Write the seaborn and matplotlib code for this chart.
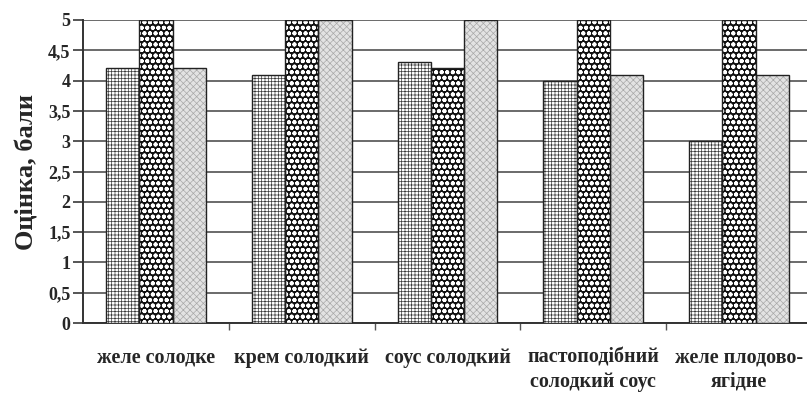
import matplotlib
matplotlib.use("Agg")
import matplotlib.pyplot as plt
import matplotlib.patches as mpatches
import seaborn as sns
import pandas as pd

# Scores for each dessert product, three samples per product
categories = ["желе солодке", "крем солодкий", "соус солодкий",
              "пастоподібний\nсолодкий соус", "желе плодово-\nягідне"]
series_names = ["Зразок 1", "Зразок 2", "Зразок 3"]
sample_1 = [4.2, 4.1, 4.3, 4.0, 3.0]
sample_2 = [5.0, 5.0, 4.2, 5.0, 5.0]
sample_3 = [4.2, 5.0, 5.0, 4.1, 4.1]
y_ticks = [0, 0.5, 1, 1.5, 2, 2.5, 3, 3.5, 4, 4.5, 5]
y_tick_labels = ["0", "0,5", "1", "1,5", "2", "2,5", "3", "3,5", "4", "4,5", "5"]
y_label = "Оцінка, бали"

rows = []
for name, vals in zip(series_names, [sample_1, sample_2, sample_3]):
    for cat, v in zip(categories, vals):
        rows.append({"product": cat, "sample": name, "score": v})
df = pd.DataFrame(rows)

sns.set_style("white")
plt.rcParams["font.family"] = ["Liberation Serif", "DejaVu Serif"]
plt.rcParams["hatch.linewidth"] = 0.5

fig = plt.figure(figsize=(8.07, 3.93), dpi=100)
ax = fig.add_axes([83 / 807, 70 / 393, 729 / 807, 303 / 393])

sns.barplot(data=df, x="product", y="score", hue="sample", order=categories,
            hue_order=series_names, width=0.685, gap=0, legend=False,
            errorbar=None, ax=ax, zorder=3)

# Fill styles for the three samples: fine grid, dotted black, light texture
styles = [
    dict(facecolor="white", edgecolor="#3a3a3a", hatch="+++++", hlw=0.5),
    dict(facecolor="#101010", edgecolor="white", hatch="ooo", hlw=1.3),
    dict(facecolor="#e2e2e2", edgecolor="#a8a8a8", hatch="xxxxx", hlw=0.5),
]
for cont, st in zip(ax.containers, styles):
    for bar in cont:
        bar.set_facecolor(st["facecolor"])
        bar.set_edgecolor(st["edgecolor"])
        bar.set_hatch(st["hatch"])
        if hasattr(bar, "set_hatch_linewidth"):
            bar.set_hatch_linewidth(st["hlw"])
        bar.set_linewidth(0)
        outline = mpatches.Rectangle(bar.get_xy(), bar.get_width(), bar.get_height(),
                                     fill=False, edgecolor="#222222", linewidth=1.0,
                                     zorder=4)
        ax.add_patch(outline)

ax.set_ylim(0, 5)
ax.set_xlim(-0.5, 4.5)
ax.set_yticks(y_ticks)
ax.set_yticklabels(y_tick_labels, fontsize=13, fontweight="bold")
ax.yaxis.grid(True, color="#6a6a6a", linewidth=1.4, zorder=0)
ax.set_axisbelow(True)
ax.tick_params(axis="y", length=7, width=1.4, color="#555555", pad=2, direction="out",
               left=True)

ax.set_xticks(range(len(categories)))
ax.set_xticklabels(categories, fontsize=14.5, fontweight="bold", linespacing=1.25)
ax.set_xticks([0.5, 1.5, 2.5, 3.5], minor=True)
ax.tick_params(axis="x", which="major", length=0, pad=18)
ax.tick_params(axis="x", which="minor", length=5, width=1, color="#555555",
               direction="out", bottom=True)

ax.set_xlabel("")
ax.set_ylabel(y_label, fontsize=19, fontweight="bold", labelpad=7)

for side in ["top", "right"]:
    ax.spines[side].set_visible(False)
ax.spines["left"].set_color("#333333")
ax.spines["left"].set_linewidth(1.4)
ax.spines["bottom"].set_color("#333333")
ax.spines["bottom"].set_linewidth(1.4)

fig.savefig("out.png", dpi=100)
